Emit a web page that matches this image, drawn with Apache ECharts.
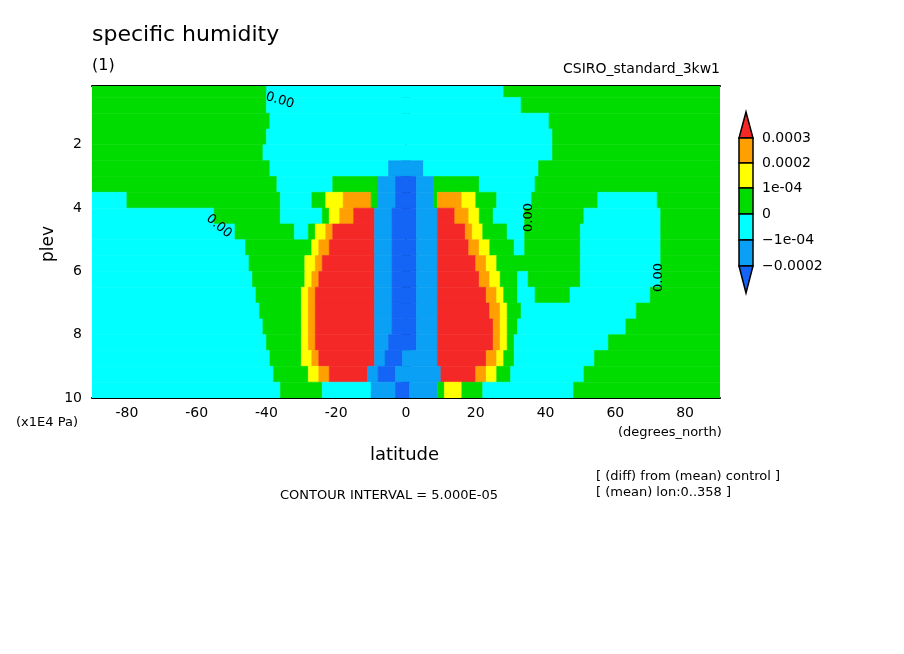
<!DOCTYPE html>
<html>
<head>
<meta charset="utf-8">
<script src="https://cdn.jsdelivr.net/npm/echarts@6/dist/echarts.min.js"></script>
<style>html,body{margin:0;background:#fff}#c{width:904px;height:654px}</style>
</head>
<body>
<div id="c"></div>
<script>
// band levels (plev, x1E4 Pa): each row covers [top, top + 0.5]
var levelTops = [0, 0.5, 1, 1.5, 2, 2.5, 3, 3.5, 4, 4.5, 5, 5.5, 6, 6.5, 7, 7.5, 8, 8.5, 9, 9.5];
// for each row: runs of [class, right-edge latitude], starting at -90
var rowRuns = [
  [['G',-40],['C',28],['G',90]],
  [['G',-40],['C',33],['G',90]],
  [['G',-39],['C',41],['G',90]],
  [['G',-40],['C',42],['G',90]],
  [['G',-41],['C',42],['G',90]],
  [['G',-39],['C',-5],['B',5],['C',38],['G',90]],
  [['G',-37],['C',-21],['G',-8],['B',-3],['D',3],['B',8],['G',21],['C',37],['G',90]],
  [['C',-80],['G',-36],['C',-27],['G',-23],['Y',-18],['O',-10],['G',-8],['B',-3],['D',3],['B',8],['G',9],['O',16],['Y',20],['G',26],['C',36],['G',55],['C',72],['G',90]],
  [['C',-55],['G',-36],['C',-24],['G',-22],['Y',-19],['O',-15],['R',-9],['B',-4],['D',3],['B',9],['R',14],['O',18],['Y',21],['G',25],['C',34],['G',51],['C',73],['G',90]],
  [['C',-49],['G',-32],['C',-28],['G',-26],['Y',-23],['O',-21],['R',-9],['B',-4],['D',3],['B',9],['R',17],['O',19],['Y',22],['G',29],['C',34],['G',50],['C',73],['G',90]],
  [['C',-46],['G',-27],['Y',-25],['O',-22],['R',-9],['B',-4],['D',3],['B',9],['R',18],['O',21],['Y',24],['G',31],['C',34],['G',50],['C',73],['G',90]],
  [['C',-45],['G',-29],['Y',-26],['O',-24],['R',-9],['B',-4],['D',3],['B',9],['R',20],['O',23],['Y',26],['G',50],['C',73],['G',90]],
  [['C',-44],['G',-29],['Y',-27],['O',-25],['R',-9],['B',-4],['D',3],['B',9],['R',21],['O',24],['Y',27],['G',32],['C',35],['G',50],['C',73],['G',90]],
  [['C',-43],['G',-30],['Y',-28],['O',-26],['R',-9],['B',-4],['D',3],['B',9],['R',23],['O',26],['Y',28],['G',32],['C',37],['G',47],['C',70],['G',90]],
  [['C',-42],['G',-30],['Y',-28],['O',-26],['R',-9],['B',-4],['D',3],['B',9],['R',24],['O',27],['Y',29],['G',33],['C',66],['G',90]],
  [['C',-41],['G',-30],['Y',-28],['O',-26],['R',-9],['B',-4],['D',3],['B',9],['R',25],['O',27],['Y',29],['G',32],['C',63],['G',90]],
  [['C',-40],['G',-30],['Y',-28],['O',-26],['R',-9],['B',-5],['D',3],['B',9],['R',25],['O',27],['Y',29],['G',31],['C',58],['G',90]],
  [['C',-39],['G',-30],['Y',-27],['O',-25],['R',-9],['B',-6],['D',-1],['B',9],['R',23],['O',26],['Y',28],['G',31],['C',54],['G',90]],
  [['C',-38],['G',-28],['Y',-25],['O',-22],['R',-11],['B',-8],['D',-3],['B',10],['R',20],['O',23],['Y',26],['G',30],['C',51],['G',90]],
  [['C',-36],['G',-24],['C',-10],['B',-3],['D',1],['B',9],['G',11],['Y',16],['G',22],['C',48],['G',90]]
];
var classColors = { D: '#1464f5', B: '#0aa0f5', C: '#00ffff', G: '#00dc00', Y: '#ffff00', O: '#ffa000', R: '#f52828' };
var legendLabels = ['0.0003', '0.0002', '1e-04', '0', '\u22121e-04', '\u22120.0002'];
var xLabelTicks = [-80, -60, -40, -20, 0, 20, 40, 60, 80];
var xMinorTicks = [-80, -70, -60, -50, -40, -30, -20, -10, 0, 10, 20, 30, 40, 50, 60, 70, 80];
var yLabelTicks = [2, 4, 6, 8, 10];
var yMinorTicks = [0.5, 1, 1.5, 2, 2.5, 3, 3.5, 4, 4.5, 5, 5.5, 6, 6.5, 7, 7.5, 8, 8.5, 9, 9.5, 10];

var cells = [];
rowRuns.forEach(function (runs, r) {
  var x0 = -90;
  runs.forEach(function (run) {
    cells.push([x0, run[1], levelTops[r], levelTops[r] + 0.5, run[0]]);
    x0 = run[1];
  });
});

var chart = echarts.init(document.getElementById('c'));
var font = 'DejaVu Sans';
var axisCommon = {
  axisLine: { lineStyle: { color: '#000', width: 2 } },
  splitLine: { show: false }
};

// colour bar
var barG = [];
var edges = [138, 163, 188, 214, 240, 266];
var boxCols = ['O', 'Y', 'G', 'C', 'B'];
barG.push({ type: 'polygon', shape: { points: [[746, 112], [753, 138], [739, 138]] }, style: { fill: classColors.R, stroke: '#000', lineWidth: 1.5 } });
for (var k = 0; k < 5; k++) {
  barG.push({ type: 'rect', shape: { x: 739, y: edges[k], width: 14, height: edges[k + 1] - edges[k] }, style: { fill: classColors[boxCols[k]], stroke: '#000', lineWidth: 1.5 } });
}
barG.push({ type: 'polygon', shape: { points: [[739, 266], [753, 266], [746, 293]] }, style: { fill: classColors.D, stroke: '#000', lineWidth: 1.5 } });
legendLabels.forEach(function (t, i) {
  barG.push({ type: 'text', x: 762, y: edges[i], style: { text: t, font: '14px ' + font, fill: '#000', verticalAlign: 'middle' } });
});

function txt(x, y, t, size, rot, align) {
  return { type: 'text', x: x, y: y, z: 100, rotation: rot || 0,
    style: { text: t, font: size + 'px ' + font, fill: '#000', align: align || 'left' } };
}

var option = {
  animation: false,
  grid: { left: 92, top: 86, width: 628, height: 312 },
  xAxis: [
    Object.assign({ type: 'value', min: -90, max: 90, position: 'bottom',
      axisTick: { inside: true, length: 6, customValues: xMinorTicks, lineStyle: { color: '#000' } },
      axisLabel: { customValues: xLabelTicks, color: '#000', fontSize: 14, fontFamily: font, margin: 8 } }, axisCommon),
    Object.assign({ type: 'value', min: -90, max: 90, position: 'top',
      axisTick: { inside: true, length: 6, customValues: xMinorTicks, lineStyle: { color: '#000' } },
      axisLabel: { show: false } }, axisCommon)
  ],
  yAxis: [
    Object.assign({ type: 'value', min: 0.14, max: 10, inverse: true, position: 'left',
      axisTick: { inside: true, length: 5, customValues: yMinorTicks, lineStyle: { color: '#000' } },
      axisLabel: { customValues: yLabelTicks, color: '#000', fontSize: 14, fontFamily: font, margin: 10 } }, axisCommon),
    Object.assign({ type: 'value', min: 0.14, max: 10, inverse: true, position: 'right',
      axisTick: { inside: true, length: 5, customValues: yMinorTicks, lineStyle: { color: '#000' } },
      axisLabel: { show: false } }, axisCommon)
  ],
  series: [{
    type: 'custom',
    clip: true,
    data: cells,
    renderItem: function (params, api) {
      var a = api.coord([api.value(0), api.value(2)]);
      var b = api.coord([api.value(1), api.value(3)]);
      var rect = echarts.graphic.clipRectByRect(
        { x: Math.min(a[0], b[0]), y: Math.min(a[1], b[1]), width: Math.abs(b[0] - a[0]), height: Math.abs(b[1] - a[1]) },
        { x: params.coordSys.x, y: params.coordSys.y, width: params.coordSys.width, height: params.coordSys.height });
      if (!rect) return;
      var c = classColors[cells[params.dataIndex][4]];
      return { type: 'rect', shape: rect, style: { fill: c, stroke: c, lineWidth: 0.6 } };
    }
  }],
  graphic: barG.concat([
    txt(92, 24, 'specific humidity', 22),
    txt(92, 58, '(1)', 16),
    txt(720, 62, 'CSIRO_standard_3kw1', 14, 0, 'right'),
    txt(40, 262, 'plev', 17, Math.PI / 2),
    txt(16, 416, '(x1E4 Pa)', 13),
    txt(618, 426, '(degrees_north)', 13),
    txt(370, 446, 'latitude', 18),
    txt(280, 489, 'CONTOUR INTERVAL = 5.000E-05', 13),
    txt(596, 470, '[ (diff) from (mean) control ]', 13),
    txt(596, 486, '[ (mean) lon:0..358 ]', 13),
    txt(268, 90, '0.00', 13, -0.3),
    txt(212, 212, '0.00', 13, -0.7),
    txt(522, 232, '0.00', 13, Math.PI / 2),
    txt(652, 292, '0.00', 13, Math.PI / 2)
  ])
};
chart.setOption(option);
</script>
</body>
</html>
